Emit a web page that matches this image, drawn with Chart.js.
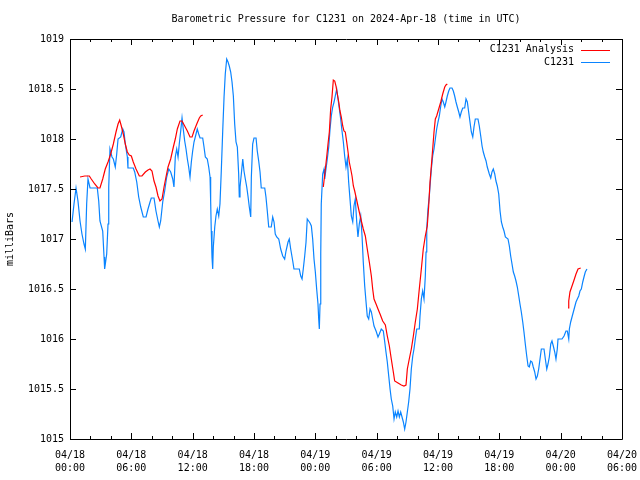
<!DOCTYPE html>
<html>
<head>
<meta charset="utf-8">
<title>Barometric Pressure C1231</title>
<script src="https://cdn.jsdelivr.net/npm/chart.js@4.4.1/dist/chart.umd.min.js"></script>
<style>
  html, body { margin: 0; padding: 0; background: #fff; }
  #wrap { width: 640px; height: 480px; }
</style>
</head>
<body>
<div id="wrap"><canvas id="pressureChart" width="640" height="480"></canvas></div>
<script>
'use strict';

// hours since 04/18 00:00 UTC
var stationHours = [
    0.20, 0.39, 0.59, 0.78, 0.98, 1.17, 1.37, 1.50, 1.63, 1.76, 1.96, 2.67, 2.81, 2.93, 3.20, 3.33, 3.39, 3.59, 3.72, 3.79,
    3.91, 4.11, 4.24, 4.43, 4.57, 4.70, 4.96, 5.16, 5.28, 5.41, 5.61, 5.67, 6.19, 6.33, 6.53, 6.72, 6.92, 7.17, 7.44, 7.63,
    7.83, 7.95, 8.22, 8.41, 8.61, 8.74, 8.87, 9.07, 9.26, 9.46, 9.66, 9.85, 10.05, 10.17, 10.30, 10.44, 10.57, 10.69, 10.83, 10.96,
    11.08, 11.22, 11.35, 11.48, 11.61, 11.74, 11.87, 12.00, 12.13, 12.33, 12.45, 12.59, 12.72, 12.98, 13.11, 13.24, 13.43, 13.57, 13.70, 13.76,
    13.82, 13.89, 13.96, 14.02, 14.16, 14.28, 14.41, 14.55, 14.67, 14.80, 14.94, 15.07, 15.19, 15.33, 15.46, 15.58, 15.72, 15.85, 15.98, 16.11,
    16.24, 16.37, 16.50, 16.56, 16.63, 16.76, 16.90, 17.02, 17.15, 17.29, 17.41, 17.54, 17.61, 17.68, 17.74, 17.87, 18.00, 18.20, 18.32, 18.46,
    18.59, 18.71, 19.05, 19.17, 19.30, 19.44, 19.69, 19.83, 19.96, 20.08, 20.22, 20.42, 20.48, 20.61, 20.81, 21.00, 21.13, 21.33, 21.45, 21.59,
    21.79, 21.91, 22.43, 22.57, 22.70, 22.82, 22.96, 23.09, 23.21, 23.35, 23.48, 23.61, 23.74, 23.87, 24.00, 24.13, 24.26, 24.33, 24.39, 24.46,
    24.53, 24.58, 24.72, 24.85, 24.92, 25.04, 25.17, 25.31, 25.44, 25.56, 25.70, 25.83, 25.95, 26.09, 26.22, 26.35, 26.48, 26.61, 26.74, 26.87,
    27.00, 27.13, 27.26, 27.39, 27.52, 27.66, 27.78, 27.91, 28.05, 28.17, 28.30, 28.44, 28.57, 28.69, 28.83, 28.96, 29.08, 29.22, 29.35, 29.48,
    29.61, 29.74, 29.94, 30.13, 30.26, 30.45, 30.52, 30.65, 30.79, 30.91, 31.04, 31.18, 31.31, 31.43, 31.57, 31.70, 31.82, 31.96, 32.09, 32.22,
    32.35, 32.48, 32.61, 32.74, 32.87, 33.00, 33.13, 33.26, 33.39, 33.53, 33.65, 33.78, 33.92, 34.17, 34.24, 34.37, 34.50, 34.63, 34.76, 34.83,
    34.90, 35.02, 35.15, 35.22, 35.35, 35.48, 35.61, 35.74, 35.87, 36.00, 36.13, 36.27, 36.39, 36.52, 36.66, 36.78, 36.91, 37.05, 37.17, 37.37,
    37.50, 37.63, 37.76, 37.89, 38.03, 38.15, 38.28, 38.42, 38.61, 38.74, 38.87, 39.00, 39.13, 39.26, 39.40, 39.52, 39.65, 39.91, 40.04, 40.18,
    40.31, 40.43, 40.57, 40.70, 40.82, 41.02, 41.16, 41.28, 41.41, 41.55, 41.67, 41.80, 41.94, 42.07, 42.20, 42.33, 42.46, 42.59, 42.85, 42.98,
    43.11, 43.24, 43.37, 43.50, 43.63, 43.76, 43.90, 44.02, 44.15, 44.29, 44.41, 44.54, 44.68, 44.81, 44.93, 45.07, 45.20, 45.32, 45.46, 45.59,
    45.72, 45.85, 45.98, 46.11, 46.37, 46.50, 46.64, 46.76, 46.89, 47.03, 47.15, 47.28, 47.42, 47.54, 47.67, 47.74, 48.13, 48.33, 48.52, 48.65,
    48.79, 48.85, 48.98, 49.11, 49.24, 49.37, 49.50, 49.63, 49.77, 49.89, 50.02, 50.16, 50.28, 50.41, 50.57
];
var stationValues = [
    1017.17, 1017.35, 1017.51, 1017.38, 1017.18, 1017.05, 1016.95, 1016.90, 1017.35, 1017.60, 1017.51, 1017.51, 1017.38, 1017.18, 1017.08, 1016.82, 1016.70, 1016.85, 1017.15, 1017.52,
    1017.90, 1017.82, 1017.80, 1017.72, 1017.85, 1018.00, 1018.02, 1018.10, 1018.07, 1017.95, 1017.82, 1017.71, 1017.71, 1017.67, 1017.57, 1017.42, 1017.32, 1017.22, 1017.22, 1017.30,
    1017.37, 1017.41, 1017.41, 1017.28, 1017.18, 1017.12, 1017.18, 1017.37, 1017.48, 1017.62, 1017.70, 1017.67, 1017.60, 1017.52, 1017.82, 1017.90, 1017.82, 1017.95, 1018.08, 1018.21,
    1018.10, 1017.98, 1017.90, 1017.80, 1017.72, 1017.62, 1017.77, 1017.88, 1017.97, 1018.05, 1018.10, 1018.05, 1018.01, 1018.01, 1017.92, 1017.82, 1017.80, 1017.72, 1017.62, 1017.38,
    1017.08, 1016.82, 1016.70, 1016.92, 1017.12, 1017.23, 1017.30, 1017.23, 1017.35, 1017.68, 1018.08, 1018.42, 1018.65, 1018.80, 1018.77, 1018.73, 1018.67, 1018.57, 1018.43, 1018.15,
    1017.97, 1017.92, 1017.65, 1017.42, 1017.52, 1017.65, 1017.80, 1017.68, 1017.60, 1017.52, 1017.43, 1017.32, 1017.27, 1017.22, 1017.62, 1017.95, 1018.01, 1018.01, 1017.88, 1017.78,
    1017.67, 1017.51, 1017.51, 1017.42, 1017.28, 1017.12, 1017.12, 1017.22, 1017.17, 1017.05, 1017.02, 1017.00, 1016.97, 1016.90, 1016.83, 1016.80, 1016.88, 1016.97, 1017.00, 1016.90,
    1016.78, 1016.70, 1016.70, 1016.63, 1016.60, 1016.70, 1016.83, 1016.97, 1017.20, 1017.18, 1017.16, 1017.13, 1017.00, 1016.80, 1016.67, 1016.50, 1016.35, 1016.20, 1016.10, 1016.35,
    1016.85, 1017.35, 1017.65, 1017.70, 1017.60, 1017.70, 1017.80, 1017.92, 1018.10, 1018.23, 1018.32, 1018.37, 1018.43, 1018.50, 1018.40, 1018.30, 1018.20, 1018.08, 1017.97, 1017.83,
    1017.72, 1017.80, 1017.57, 1017.40, 1017.23, 1017.17, 1017.33, 1017.40, 1017.17, 1017.02, 1017.15, 1017.23, 1017.03, 1016.77, 1016.53, 1016.37, 1016.23, 1016.20, 1016.30, 1016.27,
    1016.20, 1016.13, 1016.08, 1016.02, 1016.05, 1016.10, 1016.10, 1016.08, 1015.97, 1015.87, 1015.77, 1015.63, 1015.50, 1015.40, 1015.33, 1015.20, 1015.27, 1015.22, 1015.28, 1015.22,
    1015.27, 1015.22, 1015.17, 1015.10, 1015.17, 1015.27, 1015.37, 1015.50, 1015.70, 1015.83, 1015.90, 1016.00, 1016.10, 1016.10, 1016.23, 1016.40, 1016.48, 1016.40, 1016.63, 1016.87,
    1017.10, 1017.30, 1017.43, 1017.53, 1017.70, 1017.83, 1017.90, 1018.00, 1018.10, 1018.17, 1018.23, 1018.33, 1018.40, 1018.37, 1018.32, 1018.37, 1018.43, 1018.48, 1018.51, 1018.51,
    1018.48, 1018.43, 1018.37, 1018.32, 1018.27, 1018.22, 1018.27, 1018.31, 1018.31, 1018.40, 1018.37, 1018.27, 1018.17, 1018.07, 1018.02, 1018.12, 1018.20, 1018.20, 1018.13, 1018.03,
    1017.93, 1017.87, 1017.82, 1017.78, 1017.72, 1017.65, 1017.61, 1017.67, 1017.70, 1017.65, 1017.58, 1017.53, 1017.45, 1017.28, 1017.17, 1017.12, 1017.08, 1017.02, 1017.00, 1016.93,
    1016.83, 1016.75, 1016.67, 1016.63, 1016.58, 1016.52, 1016.43, 1016.35, 1016.27, 1016.17, 1016.07, 1015.95, 1015.83, 1015.73, 1015.72, 1015.78, 1015.77, 1015.72, 1015.67, 1015.60,
    1015.63, 1015.70, 1015.80, 1015.90, 1015.90, 1015.80, 1015.70, 1015.75, 1015.82, 1015.95, 1015.98, 1015.93, 1015.87, 1015.80, 1015.90, 1016.00, 1016.00, 1016.03, 1016.08, 1016.08,
    1016.00, 1016.10, 1016.17, 1016.22, 1016.27, 1016.32, 1016.37, 1016.40, 1016.43, 1016.48, 1016.50, 1016.57, 1016.62, 1016.67, 1016.70
];

// analysis comes in three runs, null marks the breaks
var analysisHours = [
    0.98, 1.44, 1.89, 2.08, 2.42, 2.74, 2.93, 3.20, 3.45, 3.72, 3.98, 4.24, 4.50, 4.70, 4.86, 5.02, 5.21, 5.41, 5.61, 5.80,
    6.00, 6.19, 6.46, 6.78, 7.04, 7.37, 7.63, 7.83, 8.02, 8.22, 8.41, 8.61, 8.80, 9.00, 9.20, 9.39, 9.59, 9.85, 10.11, 10.30,
    10.50, 10.76, 10.96, 11.22, 11.48, 11.74, 11.94, 12.13, 12.40, 12.65, 12.79, 12.98,
    18.00,
    24.78, 24.98, 25.11, 25.24, 25.37, 25.50, 25.63, 25.76, 25.90, 26.02, 26.15, 26.29, 26.41, 26.54, 26.68, 26.80, 26.93, 27.07, 27.20, 27.32,
    27.46, 27.59, 27.72, 27.85, 27.98, 28.17, 28.30, 28.50, 28.69, 28.89, 29.08, 29.28, 29.48, 29.61, 29.74, 29.94, 30.13, 30.33, 30.59, 30.85,
    31.04, 31.24, 31.43, 31.63, 31.76, 32.09, 32.41, 32.67, 32.87, 33.00, 33.19, 33.39, 33.59, 33.78, 33.98, 34.17, 34.37, 34.56, 34.76, 34.95,
    35.09, 35.22, 35.35, 35.48, 35.61, 35.74, 35.87, 36.07, 36.27, 36.46, 36.66, 36.78, 36.91,
    42.00,
    48.72, 48.79, 48.91, 49.11, 49.31, 49.50, 49.70, 49.96
];
var analysisValues = [
    1017.62, 1017.63, 1017.63, 1017.60, 1017.55, 1017.51, 1017.51, 1017.60, 1017.70, 1017.77, 1017.85, 1017.95, 1018.07, 1018.15, 1018.19, 1018.13, 1018.05, 1017.95, 1017.87, 1017.84,
    1017.83, 1017.77, 1017.70, 1017.63, 1017.63, 1017.67, 1017.69, 1017.70, 1017.68, 1017.58, 1017.52, 1017.43, 1017.38, 1017.40, 1017.52, 1017.62, 1017.72, 1017.80, 1017.92, 1018.00,
    1018.10, 1018.18, 1018.18, 1018.13, 1018.08, 1018.02, 1018.02, 1018.08, 1018.15, 1018.21, 1018.23, 1018.24,
    null,
    1017.52, 1017.70, 1017.82, 1017.95, 1018.07, 1018.30, 1018.42, 1018.59, 1018.58, 1018.53, 1018.45, 1018.37, 1018.28, 1018.22, 1018.13, 1018.08, 1018.07, 1017.97, 1017.87, 1017.77,
    1017.70, 1017.63, 1017.53, 1017.48, 1017.42, 1017.33, 1017.27, 1017.18, 1017.10, 1017.03, 1016.90, 1016.77, 1016.63, 1016.50, 1016.40, 1016.35, 1016.30, 1016.25, 1016.18, 1016.14,
    1016.03, 1015.93, 1015.80, 1015.67, 1015.58, 1015.56, 1015.54, 1015.53, 1015.54, 1015.70, 1015.80, 1015.90, 1016.03, 1016.17, 1016.30, 1016.50, 1016.70, 1016.90, 1017.03, 1017.13,
    1017.33, 1017.57, 1017.73, 1017.90, 1018.07, 1018.20, 1018.23, 1018.30, 1018.37, 1018.45, 1018.52, 1018.54, 1018.55,
    null,
    1016.31, 1016.38, 1016.47, 1016.53, 1016.59, 1016.65, 1016.70, 1016.71
];

var xTickLabels = [
    ['04/18', '00:00'], ['04/18', '06:00'], ['04/18', '12:00'], ['04/18', '18:00'], ['04/19', '00:00'],
    ['04/19', '06:00'], ['04/19', '12:00'], ['04/19', '18:00'], ['04/20', '00:00'], ['04/20', '06:00']
];
var yTickLabels = ['1015', '1015.5', '1016', '1016.5', '1017', '1017.5', '1018', '1018.5', '1019'];

var chartTitle = 'Barometric Pressure for C1231 on 2024-Apr-18 (time in UTC)';
var monoFont = '"DejaVu Sans Mono", "Liberation Mono", monospace';

function toPoints(xs, ys) {
    var pts = [];
    for (var i = 0; i < xs.length; i++) {
        pts.push({ x: xs[i], y: ys[i] });
    }
    return pts;
}

// gnuplot style frame: box with inward ticks on all four sides, title and key
var framePlugin = {
    id: 'frame',
    afterDatasetsDraw: function (chart) {
        var ctx = chart.ctx;
        var area = chart.chartArea;
        var xs = chart.scales.x;
        var ys = chart.scales.y;
        ctx.save();
        ctx.strokeStyle = '#000';
        ctx.lineWidth = 1;
        ctx.beginPath();
        ctx.rect(area.left + 0.5, area.top + 0.5, area.right - area.left, area.bottom - area.top);
        for (var h = 0; h <= 54; h += 2) {
            var px = Math.round(xs.getPixelForValue(h)) + 0.5;
            var len = (h % 6 === 0) ? 6 : 3;
            ctx.moveTo(px, area.bottom);
            ctx.lineTo(px, area.bottom - len);
            ctx.moveTo(px, area.top);
            ctx.lineTo(px, area.top + len);
        }
        for (var v = 1015; v <= 1019; v += 0.5) {
            var py = Math.round(ys.getPixelForValue(v)) + 0.5;
            ctx.moveTo(area.left, py);
            ctx.lineTo(area.left + 6, py);
            ctx.moveTo(area.right, py);
            ctx.lineTo(area.right - 6, py);
        }
        ctx.stroke();

        ctx.font = '10px ' + monoFont;
        ctx.fillStyle = '#000';
        ctx.textBaseline = 'middle';
        ctx.textAlign = 'center';
        ctx.fillText(chartTitle, (area.left + area.right) / 2, 19);

        // key, top right inside the plot
        ctx.textAlign = 'right';
        var sets = chart.data.datasets;
        for (var i = 0; i < sets.length; i++) {
            var ky = 49.5 + i * 12.5;
            ctx.fillText(sets[i].label, 574, ky);
            ctx.strokeStyle = sets[i].borderColor;
            ctx.beginPath();
            ctx.moveTo(581, Math.round(ky) + 0.5);
            ctx.lineTo(610, Math.round(ky) + 0.5);
            ctx.stroke();
        }
        ctx.restore();
    }
};

var ctx = document.getElementById('pressureChart').getContext('2d');
new Chart(ctx, {
    type: 'line',
    data: {
        datasets: [
            {
                label: 'C1231 Analysis',
                data: toPoints(analysisHours, analysisValues),
                borderColor: '#ff0000',
                borderWidth: 1.2,
                pointRadius: 0,
                tension: 0,
                spanGaps: false
            },
            {
                label: 'C1231',
                data: toPoints(stationHours, stationValues),
                borderColor: '#0a84ff',
                borderWidth: 1.2,
                pointRadius: 0,
                tension: 0
            }
        ]
    },
    options: {
        responsive: false,
        animation: false,
        layout: { padding: { left: 0, right: 18, top: 39, bottom: 0 } },
        plugins: {
            legend: { display: false },
            tooltip: { enabled: false },
            title: { display: false }
        },
        scales: {
            x: {
                type: 'linear',
                min: 0,
                max: 54,
                grid: { display: false, drawTicks: false },
                border: { display: false },
                ticks: {
                    stepSize: 6,
                    autoSkip: false,
                    maxRotation: 0,
                    padding: 10,
                    color: '#000',
                    font: { family: monoFont, size: 10, lineHeight: 1.3 },
                    callback: function (value) {
                        return xTickLabels[Math.round(value / 6)];
                    }
                },
                afterFit: function (scale) {
                    scale.height = 41;
                    scale.paddingLeft = 0;
                    scale.paddingRight = 0;
                }
            },
            y: {
                min: 1015,
                max: 1019,
                grid: { display: false, drawTicks: false },
                border: { display: false },
                ticks: {
                    stepSize: 0.5,
                    padding: 6,
                    color: '#000',
                    font: { family: monoFont, size: 10 },
                    callback: function (value) {
                        return yTickLabels[Math.round((value - 1015) * 2)];
                    }
                },
                title: {
                    display: true,
                    text: 'milliBars',
                    color: '#000',
                    font: { family: monoFont, size: 10 },
                    padding: { top: 4, bottom: 0 }
                },
                afterFit: function (scale) {
                    scale.width = 70;
                    scale.paddingTop = 0;
                    scale.paddingBottom = 0;
                }
            }
        }
    },
    plugins: [framePlugin]
});
</script>
</body>
</html>
